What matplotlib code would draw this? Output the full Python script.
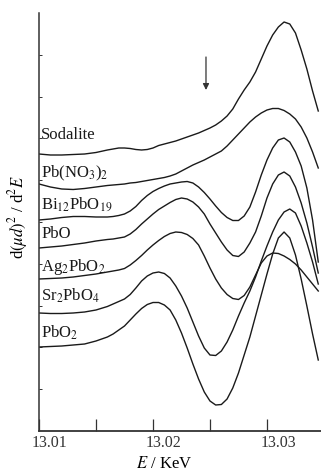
# %%
import numpy as np
from matplotlib import pyplot as plt
from matplotlib.transforms import ScaledTranslation

plt.rcParams.update({"font.family": "serif",
                     "font.serif": ["Liberation Serif", "DejaVu Serif"],
                     "mathtext.fontset": "stix",
                     "font.size": 12,
                     "axes.edgecolor": "#333333",
                     "xtick.color": "#333333",
                     "ytick.color": "#333333"})

# %%
# energy grid [keV]
energy = [13.0100, 13.0110, 13.0120, 13.0130, 13.0140, 13.0150, 13.0160,
          13.0165, 13.0170, 13.0175, 13.0180, 13.0185, 13.0190, 13.0195,
          13.0200, 13.0205, 13.0210, 13.0215, 13.0220, 13.0225, 13.0230,
          13.0235, 13.0240, 13.0245, 13.0250, 13.0255, 13.0260, 13.0265,
          13.0270, 13.0275, 13.0280, 13.0285, 13.0290, 13.0295, 13.0300,
          13.0305, 13.0310, 13.0315, 13.0320, 13.0325, 13.0330, 13.0335,
          13.0340, 13.0345]

# second derivative spectra, offset, arbitrary units
sodalite = [27.7, 27.6, 27.6, 27.65, 27.7, 27.85, 28.1,
            28.2, 28.3, 28.3, 28.25, 28.15, 28.1, 28.15, 28.3, 28.55, 28.7,
            28.85, 29.0, 29.2, 29.4, 29.6, 29.8, 30.05, 30.3, 30.6, 31.0,
            31.5, 32.2, 33.2, 34.1, 34.9, 35.9, 37.2, 38.5, 39.6, 40.4,
            40.9, 40.7, 39.8, 38.1, 36.2, 34.0, 32.0]
pb_no3 = [24.7, 24.4, 24.2, 24.15, 24.25, 24.4, 24.55,
          24.6, 24.65, 24.7, 24.8, 24.85, 24.95, 25.05, 25.15, 25.25, 25.35,
          25.5, 25.7, 26.0, 26.3, 26.6, 26.85, 27.1, 27.4, 27.7, 28.0,
          28.5, 29.1, 29.7, 30.3, 30.9, 31.4, 31.8, 32.1, 32.25, 32.25,
          32.05, 31.7, 31.2, 30.4, 29.3, 27.9, 26.3]
bi12pbo19 = [21.1, 21.2, 21.35, 21.45, 21.45, 21.4, 21.4,
             21.45, 21.55, 21.7, 22.0, 22.45, 23.05, 23.55, 23.95, 24.25, 24.5,
             24.7, 24.8, 24.9, 24.95, 24.8, 24.4, 23.85, 23.2, 22.5, 21.85,
             21.35, 21.05, 21.05, 21.5, 22.4, 23.9, 25.6, 27.1, 28.3, 29.1,
             29.3, 28.9, 27.9, 26.5, 24.3, 21.1, 16.9]
pbo = [18.3, 18.4, 18.5, 18.65, 18.8, 19.0, 19.15,
       19.2, 19.3, 19.4, 19.7, 20.15, 20.7, 21.2, 21.7, 22.15, 22.5,
       22.85, 23.15, 23.3, 23.2, 22.9, 22.4, 21.7, 20.7, 19.8, 18.9,
       18.1, 17.55, 17.45, 17.9, 18.8, 19.9, 21.5, 23.3, 24.7, 25.6,
       25.9, 25.5, 24.4, 22.8, 20.8, 18.4, 15.8]
ag2pbo2 = [15.2, 15.25, 15.3, 15.4, 15.55, 15.7, 15.9,
           16.0, 16.1, 16.25, 16.6, 17.05, 17.55, 18.1, 18.6, 19.05, 19.45,
           19.75, 19.9, 19.85, 19.65, 19.25, 18.6, 17.5, 16.3, 15.2, 14.3,
           13.65, 13.25, 13.15, 13.55, 14.4, 15.6, 16.8, 17.5, 17.8, 17.75,
           17.5, 17.15, 16.7, 16.1, 15.4, 14.7, 14.0]
sr2pbo4 = [11.8, 11.75, 11.75, 11.8, 11.9, 12.1, 12.45,
           12.7, 12.95, 13.2, 13.65, 14.3, 15.0, 15.5, 15.8, 15.9, 15.75,
           15.3, 14.5, 13.5, 12.3, 10.9, 9.5, 8.3, 7.6, 7.55, 8.0,
           8.9, 10.1, 11.5, 12.8, 14.0, 15.4, 17.0, 18.5, 19.9, 21.1,
           21.9, 22.2, 21.8, 20.5, 18.8, 16.9, 14.7]
pbo2 = [8.4, 8.45, 8.5, 8.6, 8.7, 9.0, 9.4,
        9.7, 10.1, 10.5, 11.1, 11.7, 12.25, 12.65, 12.85, 12.85, 12.6,
        12.1, 11.1, 9.8, 8.3, 6.7, 5.2, 3.9, 3.0, 2.6, 2.65,
        3.2, 4.3, 5.8, 7.6, 9.4, 11.5, 13.6, 15.7, 17.7, 19.3,
        19.9, 19.3, 17.6, 15.2, 12.5, 9.7, 7.1]

spectra = [sodalite, pb_no3, bi12pbo19, pbo, ag2pbo2, sr2pbo4, pbo2]
names = ['Sodalite', r'Pb(NO$_3$)$_2$', r'Bi$_{12}$PbO$_{19}$', 'PbO',
         r'Ag$_2$PbO$_2$', r'Sr$_2$PbO$_4$', r'PbO$_2$']
name_y = [29.6, 25.8, 22.6, 19.7, 16.4, 13.5, 9.8]

arrow_energy = 13.02465
arrow_top, arrow_tip = 37.4, 34.1

# %%
fig = plt.figure(figsize=(3.21, 4.75), dpi=100)
ax = fig.add_axes([39/321, 44/475, 282/321, 418/475])

for spec in spectra:
    ax.plot(energy, spec, color='#1a1a1a', lw=1.0)

for name, yy in zip(names, name_y):
    ax.text(0.008, yy, name, transform=ax.get_yaxis_transform(),
            ha='left', va='center', fontsize=12, color='#1a1a1a')

ax.annotate('', xy=(arrow_energy, arrow_tip), xytext=(arrow_energy, arrow_top),
            arrowprops=dict(arrowstyle='-|>', color='#333333', lw=0.9,
                            mutation_scale=9, shrinkA=0, shrinkB=0))

ax.set_xlim(13.01, 13.03474)
ax.set_ylim(0, 41.8)
ax.spines['top'].set_visible(False)
ax.spines['right'].set_visible(False)
ax.spines['left'].set_linewidth(1.1)
ax.spines['bottom'].set_linewidth(1.3)

ax.set_xticks([13.01, 13.02, 13.03])
ax.set_xticklabels(['13.01', '13.02', '13.03'])
ax.set_xticks([13.015, 13.025], minor=True)
ax.tick_params(axis='x', which='both', direction='in', length=8.5, width=0.9,
               pad=3, labelsize=11.5)
offset = ScaledTranslation(11/100, 0, fig.dpi_scale_trans)
for label in ax.get_xticklabels():
    label.set_transform(label.get_transform() + offset)

ax.set_yticks(np.arange(4.18, 41.0, 4.18))
ax.set_yticklabels([])
ax.tick_params(axis='y', direction='in', length=2, width=0.7)

fig.text(164/321, 11/475, r'$E$ / KeV', ha='center', va='center', fontsize=12)
fig.text(18/321, 258/475, r'd$(\mu d)^2$ / d$^2E$', ha='center', va='center',
         rotation=90, fontsize=12)

fig.savefig('out.png', dpi=100)
